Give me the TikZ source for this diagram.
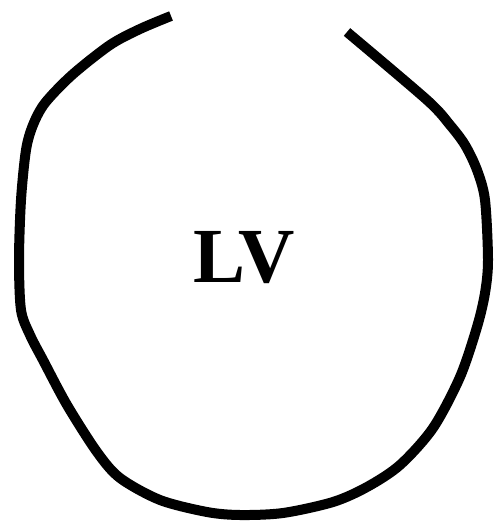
\documentclass[tikz,border=0pt]{standalone}
\usepackage{fontspec}
\setmainfont{Liberation Serif}
\begin{document}
\begin{tikzpicture}[x=1pt,y=-1pt,
  wall/.style={line width=10pt,line join=round,black},
  lbl/.style={font=\fontsize{78}{78}\selectfont\bfseries,inner sep=0pt}]
\useasboundingbox (0,0) rectangle (497,521);
\draw[wall] plot[smooth,tension=0.5] coordinates {(171,16) (140,29) (110,45) (72,75) (45,103) (33,125) (26,150) (21,200) (19,260) (21,310) (30,335) (43,360) (67,405) (97,452) (120,478) (160,500) (207,512) (240,515) (283,513) (333,502) (367,487) (400,465) (433,428) (460,377) (477,327) (485,293) (488,260) (485,200) (477,170) (465,145) (450,125) (427,100) (347,32)};
\node[lbl] (lv) at (244,258) {LV};
\end{tikzpicture}
\end{document}
